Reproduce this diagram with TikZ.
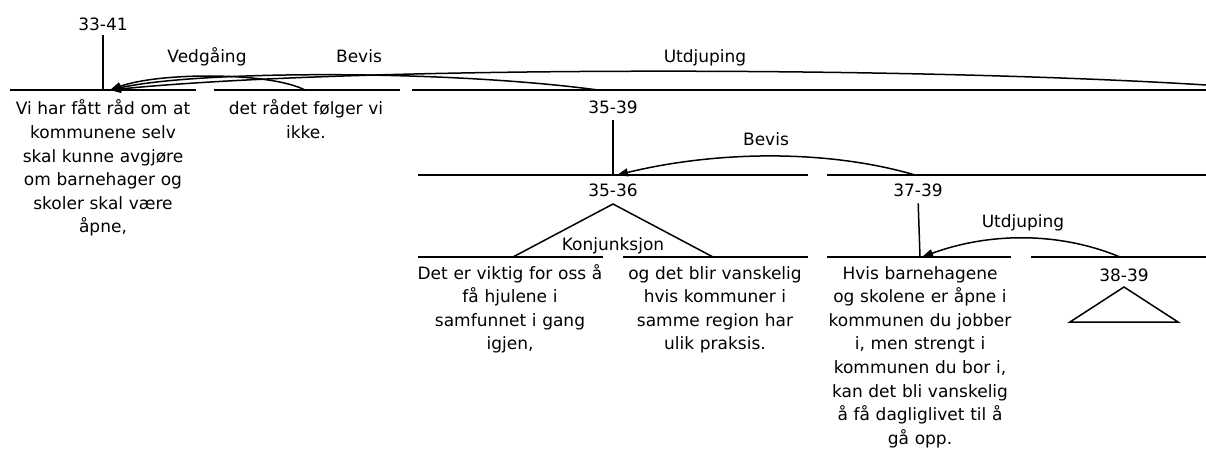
\documentclass[tikz,border=0pt]{standalone}
\usepackage{fontspec}
\setmainfont{DejaVu Sans}
\usetikzlibrary{arrows.meta}

\begin{document}
\begin{tikzpicture}[x=1pt,y=-1pt,
  every node/.style={font=\fontsize{17}{23.6}\selectfont, inner sep=0pt},
  span/.style={anchor=base},
  edu/.style={anchor=base, text width=200pt, align=center},
  seg/.style={line width=1.5pt},
  rel/.style={line width=1.5pt, -{Triangle[length=11pt,width=8pt]}}]
\useasboundingbox (0,0) rectangle (1206,454);

\node[span] (L3341) at (103,31) {33-41};
\node[span] (L3539) at (613,114) {35-39};
\node[span] (L3536) at (613,197) {35-36};
\node[span] (L3739) at (918,197) {37-39};
\node[span] (L3839) at (1124,281) {38-39};

\coordinate (T3341) at (103,90);
\coordinate (T3539) at (613,175);
\coordinate (T3739) at (920,257);
\coordinate (P3536) at (613,204);
\coordinate (P3839) at (1124,287);

\draw[seg, shorten <=4pt] (L3341.south) -- (T3341);
\draw[seg, shorten <=6pt] (L3539.south) -- (T3539);
\draw[seg, shorten <=6pt] (L3739.south) -- (T3739);

\coordinate (A1) at (10,90);    \coordinate (A2) at (196,90);
\coordinate (B1) at (214,90);   \coordinate (B2) at (400,90);
\coordinate (C1) at (412,90);   \coordinate (C2) at (1206,90);
\coordinate (D1) at (418,175);  \coordinate (D2) at (808,175);
\coordinate (E1) at (827,175);  \coordinate (E2) at (1206,175);
\coordinate (F1) at (418,257);  \coordinate (F2) at (603,257);
\coordinate (G1) at (623,257);  \coordinate (G2) at (808,257);
\coordinate (H1) at (827,257);  \coordinate (H2) at (1011,257);
\coordinate (I1) at (1031,257); \coordinate (I2) at (1206,257);
\draw[seg] (A1) -- (A2);
\draw[seg] (B1) -- (B2);
\draw[seg] (C1) -- (C2);
\draw[seg] (D1) -- (D2);
\draw[seg] (E1) -- (E2);
\draw[seg] (F1) -- (F2);
\draw[seg] (G1) -- (G2);
\draw[seg] (H1) -- (H2);
\draw[seg] (I1) -- (I2);

\coordinate (M35) at (513,257);
\coordinate (M36) at (713,257);
\draw[seg] (M35) -- (P3536) -- (M36);
\coordinate (Q1) at (1070,322);
\coordinate (Q2) at (1178,322);
\draw[seg] (Q1) -- (P3839) -- (Q2) -- cycle;

\node[edu] (E33) at (103,115) {Vi har fått råd om at\\kommunene selv\\skal kunne avgjøre\\om barnehager og\\skoler skal være\\åpne,};
\node[edu] (E34) at (306,115) {det rådet følger vi\\ikke.};
\node[edu] (E35) at (510,279) {Det er viktig for oss å\\få hjulene i\\samfunnet i gang\\igjen,};
\node[edu] (E36) at (715,279) {og det blir vanskelig\\hvis kommuner i\\samme region har\\ulik praksis.};
\node[edu] (E37) at (920,279) {Hvis barnehagene\\og skolene er åpne i\\kommunen du jobber\\i, men strengt i\\kommunen du bor i,\\kan det bli vanskelig\\å få dagliglivet til å\\gå opp.};

\coordinate (N33) at (110,90);
\coordinate (N3536) at (617,175);
\coordinate (N37) at (922,257);
\coordinate (S34) at (305,90);
\coordinate (S3539) at (598,90);
\coordinate (S4041) at (1206,85);
\coordinate (S3739) at (915,175);
\coordinate (S3839) at (1120,257);

\draw[rel] (S34) .. controls (270,72) and (160,72) .. (N33);
\draw[rel] (S3539) .. controls (450,70) and (200,70) .. (N33);
\draw[rel] (S4041) .. controls (900,66) and (350,66) .. (N33);
\draw[rel] (S3739) .. controls (830,150) and (720,150) .. (N3536);
\draw[rel] (S3839) .. controls (1060,232) and (990,232) .. (N37);

\node[span] (R1) at (207,63) {Vedgåing};
\node[span] (R2) at (359,63) {Bevis};
\node[span] (R3) at (705,63) {Utdjuping};
\node[span] (R4) at (766,146) {Bevis};
\node[span] (R5) at (613,251) {Konjunksjon};
\node[span] (R6) at (1023,228) {Utdjuping};
\end{tikzpicture}
\end{document}
